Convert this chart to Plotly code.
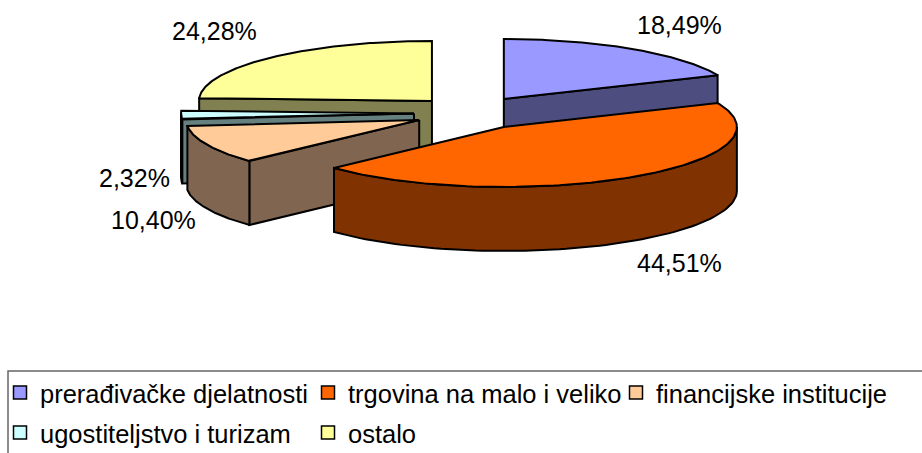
import numpy as np
import plotly.graph_objects as go

categories = ["prerađivačke djelatnosti", "trgovina na malo i veliko", "financijske institucije",
              "ugostiteljstvo i turizam", "ostalo"]
shares = [18.49, 44.51, 10.40, 2.32, 24.28]

top_colors = ["#9999FF", "#FF6600", "#FFCC99", "#CCFFFF", "#FFFF99"]
side_colors = ["#4D4D80", "#803300", "#806650", "#668080", "#808050"]
draw_order = [4, 0, 3, 2, 1]
label_xy = [(679, 25), (679, 263), (153, 220), (134, 178), (214, 31)]
legend_slots = ["legend", "legend2", "legend3", "legend4", "legend5"]
legend_xy = [(0, 393), (308, 393), (616, 393), (0, 433), (308, 433)]

W, H = 922, 453
CX, CY, RX, RY = 472, 113, 233, 60
EXPLODE_X, EXPLODE_Y, DEPTH = 58, 16.7, 64
FONT = "Liberation Sans"
LINE = dict(color="black", width=2)

fig = go.Figure()


def poly(xs, ys, color):
    fig.add_trace(go.Scatter(x=list(xs) + [xs[0]], y=list(ys) + [ys[0]], mode="lines", fill="toself",
                             fillcolor=color, line=LINE, hoverinfo="skip", showlegend=False))


edges = np.concatenate([[0], np.cumsum(shares)]) / sum(shares) * 2 * np.pi
for i in draw_order:
    s, e = edges[i], edges[i + 1]
    mid = (s + e) / 2
    ax = CX + EXPLODE_X * np.sin(mid)
    ay = CY - EXPLODE_Y * np.cos(mid)
    rim = lambda t: (ax + RX * np.sin(t), ay - RY * np.cos(t))
    # flat cut faces that look towards the viewer
    for t, visible in ((s, np.sin(s) < 0), (e, np.sin(e) > 0)):
        if visible:
            px, py = rim(t)
            poly([ax, px, px, ax], [ay, py, py + DEPTH, ay + DEPTH], side_colors[i])
    # outer wall: only the front half of the rim
    lo, hi = max(s, np.pi / 2), min(e, 3 * np.pi / 2)
    if hi > lo:
        t = np.linspace(lo, hi, 80)
        x, y = rim(t)
        poly(np.concatenate([x, x[::-1]]), np.concatenate([y, y[::-1] + DEPTH]), side_colors[i])
    # top face
    t = np.linspace(s, e, 120)
    x, y = rim(t)
    poly(np.concatenate([[ax], x]), np.concatenate([[ay], y]), top_colors[i])

# one legend per entry so that columns and rows land where the reference has them
for i, name in enumerate(categories):
    fig.add_trace(go.Scatter(x=[None], y=[None], mode="markers", name=name,
                             legend=legend_slots[i],
                             marker=dict(symbol="square", size=13, color=top_colors[i],
                                         line=dict(color="black", width=1.5))))

annotations = [dict(x=x, y=y, text=f"{v:.2f}".replace(".", ",") + "%", showarrow=False,
                    xref="x", yref="y", font=dict(family=FONT, size=25, color="black"))
               for v, (x, y) in zip(shares, label_xy)]

legends = {slot: dict(x=x / W, y=1 - y / H, orientation="h", xanchor="left", yanchor="middle",
                      bgcolor="rgba(0,0,0,0)", borderwidth=0,
                      font=dict(family=FONT, size=25.5, color="black"),
                      itemclick=False, itemdoubleclick=False)
           for slot, (x, y) in zip(legend_slots, legend_xy)}

fig.update_layout(
    width=W, height=H, margin=dict(l=0, r=0, t=0, b=0, autoexpand=False),
    paper_bgcolor="white", plot_bgcolor="white",
    xaxis=dict(range=[0, W], visible=False, fixedrange=True),
    yaxis=dict(range=[H, 0], visible=False, fixedrange=True),
    annotations=annotations,
    shapes=[dict(type="rect", xref="x", yref="y", x0=8, x1=940, y0=371, y1=470,
                 line=dict(color="#666666", width=1.5), fillcolor="rgba(0,0,0,0)", layer="below")],
    **legends,
)
fig.write_html("out.html", config=dict(displayModeBar=False),
               post_script="document.body.style.margin='0';document.body.style.overflow='hidden';")
